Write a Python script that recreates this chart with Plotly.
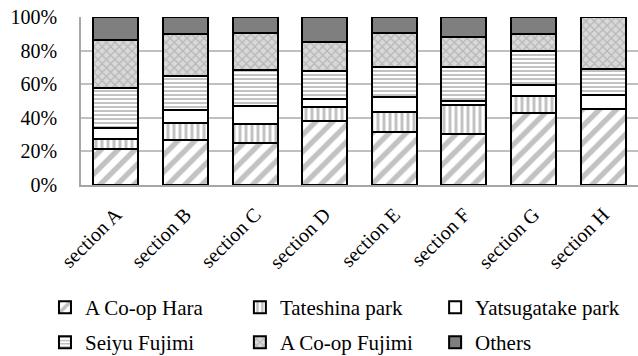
import plotly.graph_objects as go

sections = ["section A", "section B", "section C", "section D",
            "section E", "section F", "section G", "section H"]

# Share of visitors (%) per destination, stacked bottom to top
a_coop_hara = [21.4, 26.7, 24.8, 38.0, 31.5, 30.1, 42.6, 45.5]
tateshina_park = [5.7, 10.3, 11.4, 8.5, 12.1, 17.6, 10.5, None]
yatsugatake_park = [7.0, 7.6, 10.7, 4.8, 8.9, 2.4, 6.5, 7.8]
seiyu_fujimi = [23.9, 20.2, 21.8, 16.4, 17.6, 20.4, 20.4, 15.8]
a_coop_fujimi = [28.1, 25.1, 21.6, 17.6, 20.2, 17.6, 9.9, 30.9]
others = [13.9, 10.1, 9.7, 14.7, 9.7, 11.9, 10.1, None]

y_ticks = [0, 20, 40, 60, 80, 100]

FONT = "Liberation Serif"

# (name, values, fill pattern, legend column, legend row)
series = [
    ("A Co-op Hara", a_coop_hara,
     dict(shape="/", fgcolor="#868686", bgcolor="white", size=12, solidity=0.45), 0, 0),
    ("Tateshina park", tateshina_park,
     dict(shape="|", fgcolor="#868686", bgcolor="white", size=6, solidity=0.5), 1, 0),
    ("Yatsugatake park", yatsugatake_park,
     dict(shape="", fgcolor="white", bgcolor="white"), 2, 0),
    ("Seiyu Fujimi", seiyu_fujimi,
     dict(shape="-", fgcolor="#868686", bgcolor="white", size=4, solidity=0.5), 0, 1),
    ("A Co-op Fujimi", a_coop_fujimi,
     dict(shape="x", fgcolor="#959595", bgcolor="#d9d9d9", size=6, solidity=0.4), 1, 1),
    ("Others", others, None, 2, 1),
]

# legend grid: column left edges and row tops (fractions of the figure)
col_x = [0.0705, 0.376, 0.682]
row_y = [0.1938, 0.0955]

fig = go.Figure()
legends = {}
for i, (name, vals, pattern, col, row) in enumerate(series):
    marker = dict(line=dict(color="black", width=2))
    if pattern is None:
        marker["color"] = "#7f7f7f"
    else:
        marker["color"] = "white"
        marker["pattern"] = pattern
    leg = "legend" if i == 0 else f"legend{i + 1}"
    fig.add_trace(go.Bar(x=sections, y=vals, name=name, marker=marker, legend=leg))
    legends[leg] = dict(
        orientation="h",
        xref="container", yref="container",
        x=col_x[col], xanchor="left",
        y=row_y[row], yanchor="top",
        font=dict(family=FONT, size=21, color="black"),
        itemwidth=30,
        bgcolor="rgba(0,0,0,0)",
    )

fig.update_layout(
    barmode="stack",
    bargap=0.353,
    width=638,
    height=356,
    margin=dict(l=81, r=0, t=17, b=171),
    paper_bgcolor="white",
    plot_bgcolor="white",
    font=dict(family=FONT, size=20, color="black"),
    showlegend=True,
    **legends,
)

fig.update_xaxes(
    tickangle=-45,
    showline=True, linecolor="#a6a6a6", linewidth=2,
    showgrid=False, ticks="", automargin=False,
    ticklabelstandoff=8,
    tickfont=dict(family=FONT, size=20),
)
fig.update_yaxes(
    range=[0, 100],
    tickvals=y_ticks,
    ticktext=[f"{v}%" for v in y_ticks],
    showgrid=True, gridcolor="#c0c0c0", gridwidth=1.5,
    showline=True, linecolor="#a6a6a6", linewidth=1.5,
    zeroline=False, ticks="", automargin=False,
    ticklabelstandoff=18,
    tickfont=dict(family=FONT, size=20),
)

fig.write_html("out.html")
